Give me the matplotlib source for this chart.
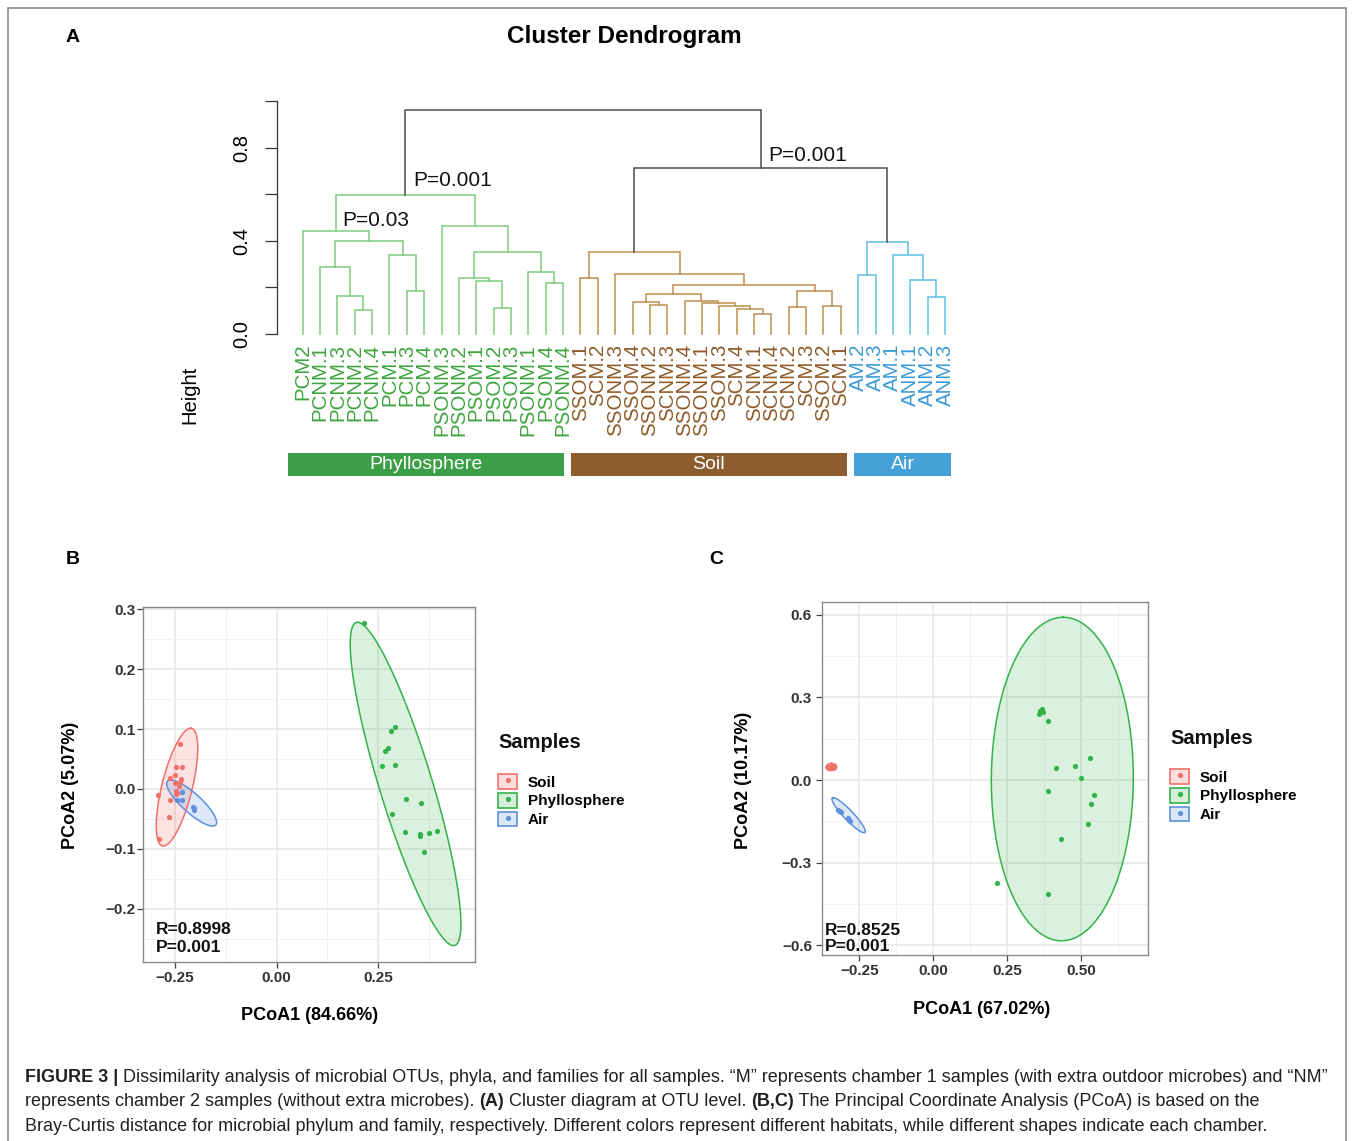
import numpy as np
import matplotlib
matplotlib.use('Agg')
import matplotlib.pyplot as plt
from matplotlib.patches import Rectangle, Patch
from matplotlib.lines import Line2D
from matplotlib.legend_handler import HandlerTuple
from matplotlib import font_manager as fm
import matplotlib.transforms as mtransforms

plt.rcParams['font.family'] = ['Liberation Sans', 'DejaVu Sans']
plt.rcParams['axes.unicode_minus'] = True

# ------------------------------------------------------------------ data
leaf_labels = ['PCM2', 'PCNM.1', 'PCNM.3', 'PCNM.2', 'PCNM.4', 'PCM.1', 'PCM.3', 'PCM.4',
               'PSONM.3', 'PSONM.2', 'PSOM.1', 'PSOM.2', 'PSOM.3', 'PSONM.1', 'PSOM.4', 'PSONM.4',
               'SSOM.1', 'SCM.2', 'SSONM.3', 'SSOM.4', 'SSONM.2', 'SCNM.3', 'SSONM.4', 'SSONM.1',
               'SSOM.3', 'SCM.4', 'SCNM.1', 'SCNM.4', 'SCNM.2', 'SCM.3', 'SSOM.2', 'SCM.1',
               'AM.2', 'AM.3', 'AM.1', 'ANM.1', 'ANM.2', 'ANM.3']
leaf_group = [0] * 16 + [1] * 16 + [2] * 6

# linkage: (child a, child b, height); new node id = 38 + row index
merge_a = [3, 2, 1, 6, 5, 40, 0, 11, 10, 9, 14, 13, 47, 8, 44,
           16, 20, 19, 26, 25, 24, 23, 22, 55, 28, 30, 62, 61, 18, 53,
           36, 35, 34, 32, 71,
           67, 52]
merge_b = [4, 38, 39, 7, 41, 42, 43, 12, 45, 46, 15, 48, 49, 50, 51,
           17, 21, 54, 27, 56, 57, 58, 59, 60, 29, 31, 63, 64, 65, 66,
           37, 68, 69, 33, 70,
           72, 73]
merge_h = [0.102, 0.162, 0.288, 0.186, 0.338, 0.401, 0.440, 0.113, 0.226, 0.239, 0.219, 0.268, 0.350, 0.464, 0.598,
           0.239, 0.125, 0.136, 0.086, 0.109, 0.120, 0.132, 0.143, 0.171, 0.118, 0.122, 0.185, 0.211, 0.257, 0.354,
           0.158, 0.232, 0.341, 0.252, 0.393,
           0.711, 0.963]
merge_group = [0] * 15 + [1] * 15 + [2] * 5 + [3] * 2

p_nodes = [52, 44, 73]
p_texts = ['P=0.001', 'P=0.03', 'P=0.001']

group_names = ['Phyllosphere', 'Soil', 'Air']

# PCoA panel B (phylum)
B_soil_x = [-0.2377, -0.2475, -0.2320, -0.2490, -0.2620, -0.2360, -0.2380, -0.2500,
            -0.2475, -0.2460, -0.2480, -0.2930, -0.2620, -0.2640, -0.2885, -0.2400]
B_soil_y = [0.0752, 0.0373, 0.0362, 0.0234, 0.0189, 0.0161, 0.0122, 0.0106,
            -0.0028, -0.0072, -0.0089, -0.0100, -0.0184, -0.0462, -0.0830, 0.0050]
B_phyl_x = [0.2148, 0.2918, 0.2811, 0.2730, 0.2664, 0.2598, 0.2918, 0.3189,
            0.3550, 0.2836, 0.3156, 0.3525, 0.3533, 0.3746, 0.3934, 0.3615]
B_phyl_y = [0.2767, 0.1030, 0.0969, 0.0679, 0.0640, 0.0390, 0.0406, -0.0167,
            -0.0239, -0.0423, -0.0718, -0.0757, -0.0785, -0.0740, -0.0702, -0.1052]
B_air_x = [-0.2320, -0.2443, -0.2320, -0.2066, -0.2025, -0.2045]
B_air_y = [-0.0050, -0.0184, -0.0184, -0.0295, -0.0350, -0.0320]

# PCoA panel C (family)
C_soil_x = [-0.356, -0.352, -0.349, -0.346, -0.343, -0.340, -0.337, -0.334,
            -0.354, -0.350, -0.347, -0.344, -0.341, -0.338, -0.335, -0.345]
C_soil_y = [0.046, 0.048, 0.044, 0.049, 0.046, 0.050, 0.047, 0.049,
            0.043, 0.045, 0.050, 0.043, 0.048, 0.044, 0.046, 0.047]
C_phyl_x = [0.3559, 0.3615, 0.3682, 0.3727, 0.3896, 0.4167, 0.4809, 0.5293,
            0.5000, 0.3896, 0.5439, 0.5338, 0.5248, 0.4324, 0.2162, 0.3896]
C_phyl_y = [0.2412, 0.2521, 0.2594, 0.2473, 0.2145, 0.0448, 0.0521, 0.0812,
            0.0061, -0.0412, -0.0533, -0.0873, -0.1600, -0.2145, -0.3733, -0.4145]
C_air_x = [-0.3232, -0.3176, -0.3131, -0.2883, -0.2838, -0.2815]
C_air_y = [-0.1090, -0.1140, -0.1164, -0.1382, -0.1455, -0.1500]

# ellipses: centre, conjugate semi-diameters a (to top point) and b (horizontal)
B_ell_c = [(-0.2451, 0.0031), (0.3172, 0.0084), (-0.2090, -0.0234)]
B_ell_a = [(0.0336, 0.0983), (-0.1180, 0.2695), (-0.0516, 0.0384)]
B_ell_b = [(0.0385, 0.0), (0.0680, 0.0), (0.0333, 0.0)]
C_ell_c = [(-0.3446, 0.0473), (0.4364, 0.0036), (-0.2860, -0.1279)]
C_ell_a = [(0.0010, 0.0130), (0.0028, 0.5880), (-0.0518, 0.0636)]
C_ell_b = [(0.0180, 0.0), (0.2400, 0.0), (0.0220, 0.0)]

B_xticks = [-0.25, 0.00, 0.25]
B_xticklabels = ['\u22120.25', '0.00', '0.25']
B_yticks = [-0.2, -0.1, 0.0, 0.1, 0.2, 0.3]
B_yticklabels = ['\u22120.2', '\u22120.1', '0.0', '0.1', '0.2', '0.3']
C_xticks = [-0.25, 0.00, 0.25, 0.50]
C_xticklabels = ['\u22120.25', '0.00', '0.25', '0.50']
C_yticks = [-0.6, -0.3, 0.0, 0.3, 0.6]
C_yticklabels = ['\u22120.6', '\u22120.3', '0.0', '0.3', '0.6']

legend_labels = ['Soil', 'Phyllosphere', 'Air']

# ------------------------------------------------------------------ style
W, H = 1358, 1141
fig = plt.figure(figsize=(W / 100, H / 100), dpi=100)


def fx(px):
    return px / W


def fy(py):
    return 1 - py / H


dend_line_cols = ['#7FCC7F', '#BF8F4E', '#5DC0E6', '#4D4D4D']
leaf_text_cols = ['#3DA53D', '#8E5A28', '#3B9AD8']
bar_cols = ['#3B9F47', '#8D5C2F', '#45A1D7']

# ------------------------------------------------------------------ frame
fig.add_artist(Rectangle((fx(8), fy(1160)), fx(1346) - fx(8), fy(8) - fy(1160),
                         transform=fig.transFigure, fill=False, edgecolor='#8C8C8C', lw=1.2))

# ------------------------------------------------------------------ panel A: dendrogram
x0px, spacing = 302.7, 17.36
ax_left, ax_right = 277, 960
axd = fig.add_axes([fx(ax_left), fy(334), fx(ax_right) - fx(ax_left), (334 - 101) / H])

n = len(leaf_labels)
xpos = list(np.arange(n, dtype=float))
hpos = [0.0] * n
for a, b, h, g in zip(merge_a, merge_b, merge_h, merge_group):
    xa, xb = xpos[a], xpos[b]
    ha, hb = hpos[a], hpos[b]
    axd.plot([xa, xa, xb, xb], [ha, h, h, hb], color=dend_line_cols[g], lw=1.1,
             solid_joinstyle='miter', clip_on=False)
    xpos.append((xa + xb) / 2)
    hpos.append(h)
axd.set_xlim(-(x0px - ax_left) / spacing, 37 + (ax_right - 945) / spacing)
axd.set_ylim(0, 1.0)

p_offsets = [(5.5, 6.0), (5.0, 3.6), (5.0, 5.5)]
for node, txt, off in zip(p_nodes, p_texts, p_offsets):
    axd.annotate(txt, (xpos[node], hpos[node]), xytext=off, textcoords='offset points',
                 ha='left', va='baseline', fontsize=15, color='#111111')

for s in ['top', 'right', 'bottom']:
    axd.spines[s].set_visible(False)
axd.spines['left'].set_bounds(0, 1.0)
axd.spines['left'].set_color('#333333')
axd.spines['left'].set_linewidth(0.9)
axd.set_xticks(np.arange(n))
axd.set_xticklabels(leaf_labels, rotation=90, fontsize=14.8, va='top', ha='center')
for lab, g in zip(axd.get_xticklabels(), leaf_group):
    lab.set_color(leaf_text_cols[g])
axd.tick_params(axis='x', length=0, pad=7)
axd.set_yticks([0.0, 0.4, 0.8])
axd.set_yticklabels(['0.0', '0.4', '0.8'], rotation=90, va='center', fontsize=14.5)
axd.set_yticks([0.2, 0.6, 1.0], minor=True)
axd.tick_params(axis='y', which='both', length=8.6, width=0.9, color='#333333', pad=10)
axd.patch.set_alpha(0)

fig.text(fx(190), fy(395), 'Height', rotation=90, ha='center', va='center', fontsize=14.5)
fig.text(fx(624), fy(37), 'Cluster Dendrogram', ha='center', va='center', fontsize=17.5,
         weight='bold')
fig.text(fx(73), fy(37), 'A', ha='center', va='center', fontsize=14, weight='bold')

# group bars
bar_spans = [(-0.85, 15.05), (15.45, 31.35), (31.75, 37.35)]
btrans = mtransforms.blended_transform_factory(axd.transData, fig.transFigure)
for (s0, s1), col, name in zip(bar_spans, bar_cols, group_names):
    axd.add_patch(Rectangle((s0, fy(476)), s1 - s0, (476 - 453) / H, transform=btrans,
                            facecolor=col, edgecolor='none', clip_on=False))
    axd.text((s0 + s1) / 2, fy(464.5), name, transform=btrans, ha='center', va='center',
             color='white', fontsize=14)

# ------------------------------------------------------------------ PCoA panels
grp_cols = ['#F0706A', '#33B24A', '#5E90DC']   # Soil, Phyllosphere, Air
grp_fill_alpha = [0.20, 0.18, 0.20]


def ellipse_xy(c, a, b):
    t = np.linspace(0, 2 * np.pi, 300)
    x = c[0] + a[0] * np.cos(t) + b[0] * np.sin(t)
    y = c[1] + a[1] * np.cos(t) + b[1] * np.sin(t)
    return x, y


def pcoa_panel(rect, xlim, ylim, xticks, xtl, yticks, ytl, pts, ell_c, ell_a, ell_b,
               stats_txt, stats_pos, xlabel, ylabel, xlab_pos, ylab_pos, ypad):
    ax = fig.add_axes(rect)
    for gi in range(3):
        ex, ey = ellipse_xy(ell_c[gi], ell_a[gi], ell_b[gi])
        ax.fill(ex, ey, color=grp_cols[gi], alpha=grp_fill_alpha[gi], lw=0)
        ax.plot(ex, ey, color=grp_cols[gi], lw=1.1)
    for gi, (px_, py_) in enumerate(pts):
        ax.scatter(px_, py_, s=14, color=grp_cols[gi], zorder=5, linewidths=0)
    ax.set_xticks(xticks)
    ax.set_xticklabels(xtl)
    ax.set_yticks(yticks)
    ax.set_yticklabels(ytl)
    xm = [(xticks[i] + xticks[i + 1]) / 2 for i in range(len(xticks) - 1)]
    xm = [xticks[0] - (xticks[1] - xticks[0]) / 2] + xm + [xticks[-1] + (xticks[1] - xticks[0]) / 2]
    ym = [(yticks[i] + yticks[i + 1]) / 2 for i in range(len(yticks) - 1)]
    ym = [yticks[0] - (yticks[1] - yticks[0]) / 2] + ym + [yticks[-1] + (yticks[1] - yticks[0]) / 2]
    ax.set_xticks(xm, minor=True)
    ax.set_yticks(ym, minor=True)
    ax.set_xlim(*xlim)
    ax.set_ylim(*ylim)
    ax.grid(True, which='major', color='#E6E6E6', lw=1.1)
    ax.grid(True, which='minor', color='#F0F0F0', lw=0.7)
    ax.set_axisbelow(True)
    ax.tick_params(which='minor', length=0)
    ax.tick_params(which='major', length=4, width=0.9, color='#444444',
                   labelsize=11, labelcolor='#333333')
    ax.tick_params(axis='x', pad=2.5)
    ax.tick_params(axis='y', pad=ypad)
    for lab in ax.get_xticklabels() + ax.get_yticklabels():
        lab.set_fontweight('bold')
    for s in ax.spines.values():
        s.set_color('#8A8A8A')
        s.set_linewidth(1.0)
    for txt, (tx, ty) in zip(stats_txt, stats_pos):
        ax.text(tx, ty, txt, transform=ax.transAxes, ha='left', va='baseline',
                fontsize=12.5, weight='bold', color='#111111')
    ax.set_xlabel(xlabel, fontsize=13, weight='bold', va='center', ha='center')
    ax.set_ylabel(ylabel, fontsize=13, weight='bold', va='center', ha='center')
    ax.xaxis.set_label_coords(*xlab_pos)
    ax.yaxis.set_label_coords(*ylab_pos)
    return ax


# panel B
bL, bR, bT, bB = 143.3, 475.0, 606.7, 961.7
axB = pcoa_panel([fx(bL), fy(bB), fx(bR) - fx(bL), (bB - bT) / H],
                 (-0.328, 0.488), (-0.288, 0.304),
                 B_xticks, B_xticklabels, B_yticks, B_yticklabels,
                 [(B_soil_x, B_soil_y), (B_phyl_x, B_phyl_y), (B_air_x, B_air_y)],
                 B_ell_c, B_ell_a, B_ell_b,
                 ['R=0.8998', 'P=0.001'], [(0.038, 0.0772), (0.038, 0.0282)],
                 'PCoA1 (84.66%)', 'PCoA2 (5.07%)',
                 ((310 - bL) / (bR - bL), (bB - 1015) / (bB - bT)),
                 ((70 - bL) / (bR - bL), (bB - 785) / (bB - bT)), 1.5)

# panel C
cL, cR, cT, cB = 821.7, 1148.0, 601.7, 955.0
axC = pcoa_panel([fx(cL), fy(cB), fx(cR) - fx(cL), (cB - cT) / H],
                 (-0.377, 0.726), (-0.636, 0.648),
                 C_xticks, C_xticklabels, C_yticks, C_yticklabels,
                 [(C_soil_x, C_soil_y), (C_phyl_x, C_phyl_y), (C_air_x, C_air_y)],
                 C_ell_c, C_ell_a, C_ell_b,
                 ['R=0.8525', 'P=0.001'], [(0.010, 0.0566), (0.010, 0.012)],
                 'PCoA1 (67.02%)', 'PCoA2 (10.17%)',
                 ((982 - cL) / (cR - cL), (cB - 1010) / (cB - cT)),
                 ((743 - cL) / (cR - cL), (cB - 780) / (cB - cT)), 3.0)

fig.text(fx(73), fy(559), 'B', ha='center', va='center', fontsize=14, weight='bold')
fig.text(fx(716), fy(559), 'C', ha='center', va='center', fontsize=14, weight='bold')

# legends
for ax, lx, title_y, key_top in [(axB, 498, 743, 774), (axC, 1170, 738, 769)]:
    handles = []
    for gi in range(3):
        handles.append((Patch(facecolor=matplotlib.colors.to_rgba(grp_cols[gi], grp_fill_alpha[gi] + 0.02),
                              edgecolor=grp_cols[gi], lw=1.2),
                        Line2D([], [], marker='o', ls='', color=grp_cols[gi], markersize=3.8,
                               markeredgewidth=0)))
    ax.legend(handles, legend_labels, handler_map={tuple: HandlerTuple(ndivide=1)},
              loc='upper left', bbox_to_anchor=(fx(lx), fy(key_top)), bbox_transform=fig.transFigure,
              frameon=False, borderpad=0, borderaxespad=0, handlelength=1.25, handleheight=1.1,
              handletextpad=0.7, labelspacing=0.22, prop={'weight': 'bold', 'size': 11})
    fig.text(fx(lx), fy(title_y), 'Samples', ha='left', va='center', fontsize=14.5,
             weight='bold', color='#111111')

# ------------------------------------------------------------------ caption
names = {f.name for f in fm.fontManager.ttflist}
cap_family = 'Liberation Sans Narrow' if 'Liberation Sans Narrow' in names else 'Liberation Sans'
renderer = fig.canvas.get_renderer()


def seg_width(text, size, bold):
    kw = dict(fontsize=size, weight='bold' if bold else 'normal', family=cap_family)
    t1 = fig.text(0, 0, '|' + text + '|', **kw)
    t2 = fig.text(0, 0, '||', **kw)
    w = t1.get_window_extent(renderer).width - t2.get_window_extent(renderer).width
    t1.remove()
    t2.remove()
    return w


cap_lines = [
    [('FIGURE 3 |', True), (' Dissimilarity analysis of microbial OTUs, phyla, and families for all samples. '
                             '\u201cM\u201d represents chamber 1 samples (with extra outdoor microbes) and \u201cNM\u201d', False)],
    [('represents chamber 2 samples (without extra microbes). ', False), ('(A)', True),
     (' Cluster diagram at OTU level. ', False), ('(B,C)', True),
     (' The Principal Coordinate Analysis (PCoA) is based on the', False)],
    [('Bray-Curtis distance for microbial phylum and family, respectively. Different colors represent '
      'different habitats, while different shapes indicate each chamber.', False)],
]
ref_size = 10.0
w_ref = sum(seg_width(t, ref_size, b) for t, b in cap_lines[0])
cap_size = ref_size * (1331.5 - 25) / w_ref
cap_baselines = [1081.7, 1106.3, 1131.0]
for segs, yb in zip(cap_lines, cap_baselines):
    x = 25.0
    for t, b in segs:
        fig.text(fx(x), fy(yb), t, fontsize=cap_size, weight='bold' if b else 'normal',
                 family=cap_family, ha='left', va='baseline', color='#231F20')
        x += seg_width(t, cap_size, b)

fig.savefig('out.png', dpi=100)
